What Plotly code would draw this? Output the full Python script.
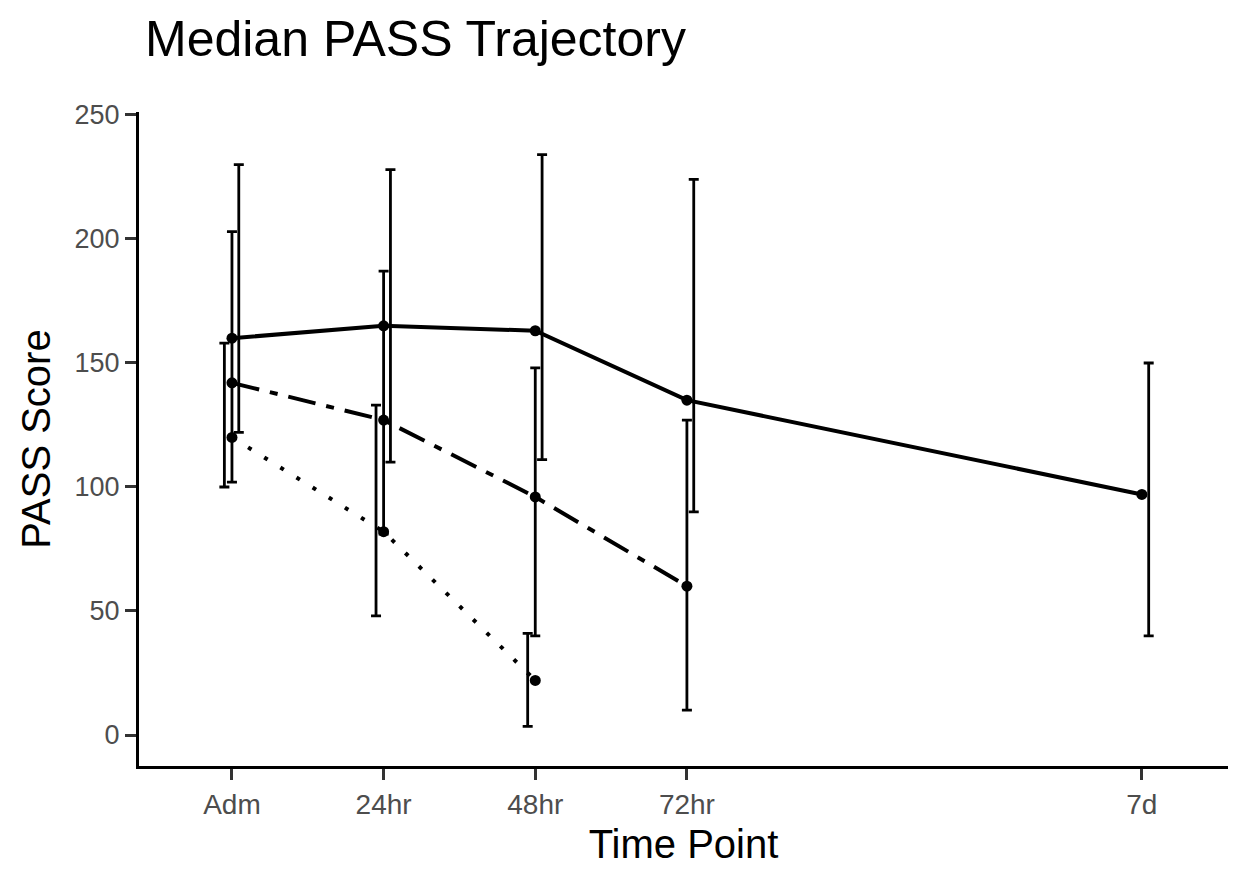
import plotly.graph_objects as go

# ---- data ----
time_labels = ["Adm", "24hr", "48hr", "72hr", "7d"]
time_pos = [0, 1, 2, 3, 6]

solid_median = [160, 165, 163, 135, 97]
solid_lower = [122, 110, 111, 90, 40]
solid_upper = [230, 228, 234, 224, 150]

dashdot_median = [142, 127, 96, 60]
dashdot_lower = [102, 81, 40, 10]
dashdot_upper = [203, 187, 148, 127]

dotted_median = [120, 82, 22]
dotted_lower = [100, 48, 3.5]
dotted_upper = [158, 133, 41]

series = [
    # name, median, lower, upper, dash, dodge offset, line width
    ("dotted", dotted_median, dotted_lower, dotted_upper, "4px,15px", -0.05, 4),
    ("dashdot", dashdot_median, dashdot_lower, dashdot_upper, "28px,11px,8px,11px", 0.0, 4),
    ("solid", solid_median, solid_lower, solid_upper, "solid", 0.045, 4),
]

fig = go.Figure()
for name, med, lo, hi, dash, off, lw in series:
    n = len(med)
    xs = time_pos[:n]
    fig.add_trace(go.Scatter(
        x=[x + off for x in xs], y=med, mode="markers",
        marker=dict(size=1, color="rgba(0,0,0,0)"),
        error_y=dict(type="data", symmetric=False,
                     array=[h - m for h, m in zip(hi, med)],
                     arrayminus=[m - l for m, l in zip(med, lo)],
                     color="black", thickness=2.8, width=5),
        showlegend=False, hoverinfo="skip"))
    fig.add_trace(go.Scatter(
        x=xs, y=med, mode="lines+markers",
        line=dict(color="black", width=lw, dash=dash),
        marker=dict(size=11, color="black"),
        showlegend=False, name=name))

fig.update_layout(
    width=1236, height=869,
    paper_bgcolor="white", plot_bgcolor="white",
    margin=dict(l=139, r=8, t=112, b=103),
    font=dict(family="Liberation Sans, Arial, sans-serif", color="black"),
    title=dict(text="Median PASS Trajectory", x=0, xref="paper", xanchor="left",
               y=0.956, yref="container", yanchor="middle",
               font=dict(size=50, color="black"), pad=dict(l=6)),
)
fig.update_xaxes(
    range=[-0.613, 6.568], tickmode="array", tickvals=time_pos, ticktext=time_labels,
    showgrid=False, zeroline=False, showline=True, linecolor="black", linewidth=3.3,
    ticks="outside", ticklen=11, tickwidth=3, tickcolor="#333333",
    tickfont=dict(size=28, color="#4d4d4d"),
    title=dict(text="Time Point", font=dict(size=40, color="black"), standoff=12),
)
fig.update_yaxes(
    range=[-12.5, 251.2], tickvals=[0, 50, 100, 150, 200, 250],
    showgrid=False, zeroline=False, showline=True, linecolor="black", linewidth=3.3,
    ticks="outside", ticklen=11, tickwidth=3, tickcolor="#333333",
    tickfont=dict(size=27, color="#4d4d4d"),
    title=dict(text="PASS Score", font=dict(size=40, color="black"), standoff=12),
)

fig.write_html("out.html")
